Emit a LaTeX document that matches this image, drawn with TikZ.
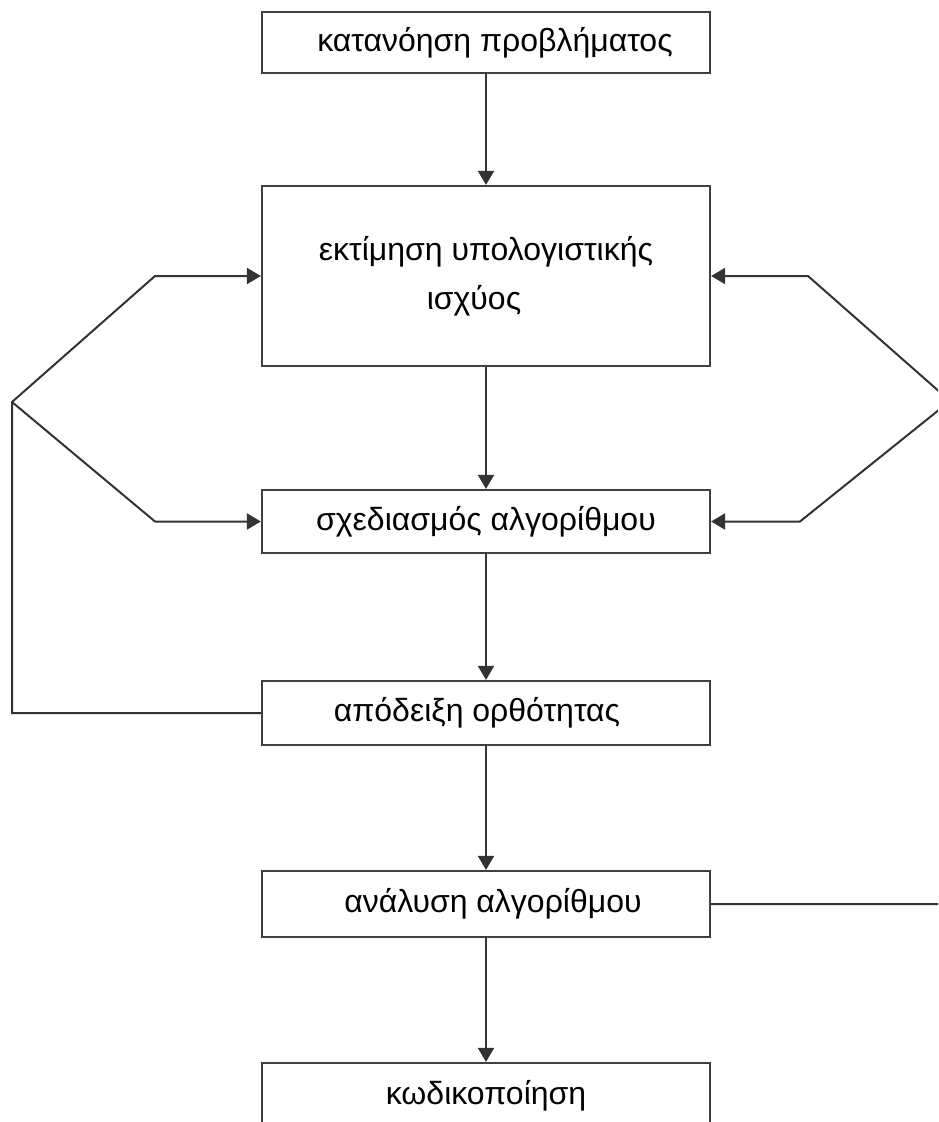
\documentclass[tikz,border=0pt]{standalone}
\usepackage{fontspec}
\setmainfont{Liberation Sans}
\usetikzlibrary{arrows.meta}
\begin{document}
\begin{tikzpicture}[x=1pt,y=-1pt,
  box/.style={draw=black!75, line width=2.2pt, minimum width=448pt, inner sep=0pt,
    align=center, font=\fontsize{32}{51}\selectfont},
  wire/.style={draw=black!80, line width=2pt, line join=miter},
  arr/.style={wire, -{Triangle[length=14pt,width=16pt]}}]
\clip (0,0) rectangle (938,1122);
% process steps
\node[box, minimum height=61pt]  (b1) at (486,42.5)  {\hspace*{18pt}κατανόηση προβλήματος};
\node[box, minimum height=180pt] (b2) at (486,276)   {εκτίμηση υπολογιστικής\\[-2pt]\hspace*{-24pt}ισχύος};
\node[box, minimum height=63pt]  (b3) at (486,521.5) {σχεδιασμός αλγορίθμου};
\node[box, minimum height=64pt]  (b4) at (486,713)   {απόδειξη ορθότητας\hspace*{18pt}};
\node[box, minimum height=66pt]  (b5) at (486,904)   {\hspace*{14pt}ανάλυση αλγορίθμου};
\node[box, minimum height=66pt]  (b6) at (486,1096)  {κωδικοποίηση};
% main flow
\draw[arr] (b1.south) -- (b2.north);
\draw[arr] (b2.south) -- (b3.north);
\draw[arr] (b3.south) -- (b4.north);
\draw[arr] (b4.south) -- (b5.north);
\draw[arr] (b5.south) -- (b6.north);
% feedback on the left
\coordinate (lfoot) at (12,713);
\coordinate (lapex) at (12,402);
\coordinate (lhi)   at (155,276);
\coordinate (llo)   at (155,521.5);
\draw[arr] (b4.west) -- (lfoot) -- (lapex) -- (lhi) -- (b2.west);
\draw[arr] (lapex) -- (llo) -- (b3.west);
% feedback on the right
\coordinate (rfoot) at (950,904);
\coordinate (rapex) at (950,401);
\coordinate (rhi)   at (808,276);
\coordinate (rlo)   at (800,521.5);
\draw[arr] (b5.east) -- (rfoot) -- (rapex) -- (rhi) -- (b2.east);
\draw[arr] (rapex) -- (rlo) -- (b3.east);
\end{tikzpicture}
\end{document}
